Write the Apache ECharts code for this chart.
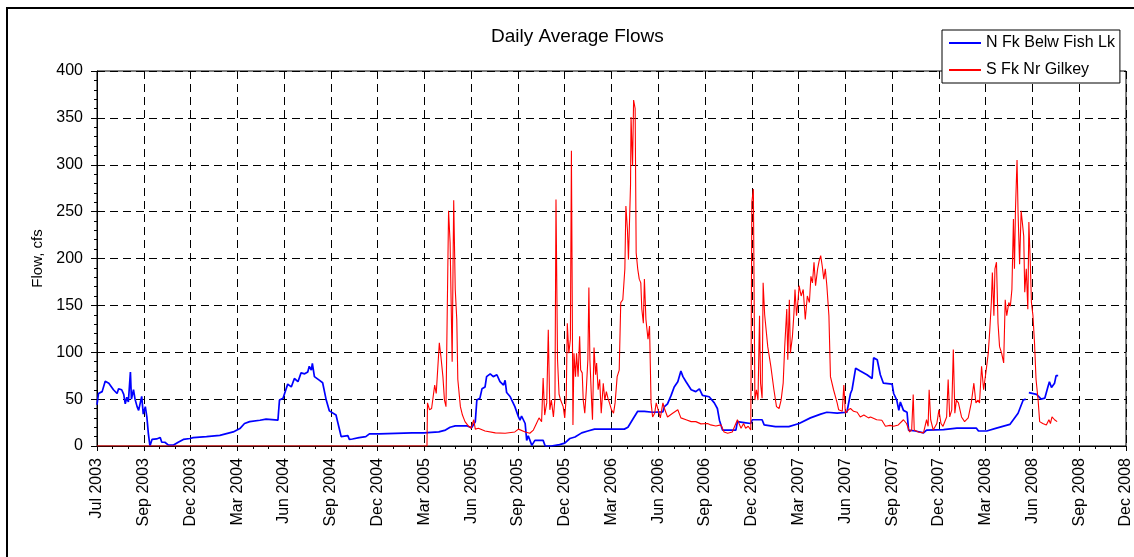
<!DOCTYPE html>
<html>
<head>
<meta charset="utf-8">
<title>Daily Average Flows</title>
<script src="https://cdn.jsdelivr.net/npm/echarts@6/dist/echarts.min.js"></script>
<style>
  html, body { margin: 0; padding: 0; background: #fff; }
  #chart { width: 1134px; height: 557px; }
</style>
</head>
<body>
<div id="chart"></div>
<script>
// axis runs from 1 Jul 2003, one label every 91 days
const startDate = '2003-07-01'
const monthNames = ['Jan', 'Feb', 'Mar', 'Apr', 'May', 'Jun', 'Jul', 'Aug', 'Sep', 'Oct', 'Nov', 'Dec']

// N Fk Belw Fish Lk (cfs)
const northDates = [
  '2003-07-01', '2003-07-04', '2003-07-11', '2003-07-14', '2003-07-17', '2003-07-24', '2003-08-02', '2003-08-09', '2003-08-12', '2003-08-18',
  '2003-08-22', '2003-08-25', '2003-08-28', '2003-08-31', '2003-09-04', '2003-09-06', '2003-09-10', '2003-09-13', '2003-09-17', '2003-09-20',
  '2003-09-23', '2003-09-26', '2003-09-29', '2003-10-03', '2003-10-06', '2003-10-09', '2003-10-12', '2003-10-16', '2003-10-25', '2003-11-01',
  '2003-11-04', '2003-11-10', '2003-11-17', '2003-11-20', '2003-11-27', '2003-12-06', '2003-12-16', '2003-12-29', '2004-01-04', '2004-01-30',
  '2004-02-25', '2004-03-22', '2004-04-04', '2004-04-13', '2004-04-23', '2004-05-13', '2004-05-25', '2004-06-17', '2004-06-20', '2004-06-27',
  '2004-06-30', '2004-07-06', '2004-07-13', '2004-07-19', '2004-07-26', '2004-08-01', '2004-08-08', '2004-08-14', '2004-08-17', '2004-08-21',
  '2004-08-23', '2004-08-27', '2004-08-30', '2004-09-06', '2004-09-12', '2004-09-19', '2004-09-25', '2004-10-08', '2004-10-15', '2004-10-18',
  '2004-10-31', '2004-11-03', '2004-11-09', '2004-11-22', '2004-12-05', '2004-12-12', '2004-12-31', '2005-03-05', '2005-03-28', '2005-04-26',
  '2005-05-09', '2005-05-18', '2005-05-28', '2005-06-20', '2005-06-29', '2005-07-06', '2005-07-09', '2005-07-15', '2005-07-19', '2005-07-25',
  '2005-07-28', '2005-08-04', '2005-08-10', '2005-08-17', '2005-08-23', '2005-08-30', '2005-09-02', '2005-09-05', '2005-09-12', '2005-09-21',
  '2005-09-28', '2005-10-01', '2005-10-04', '2005-10-11', '2005-10-14', '2005-10-17', '2005-10-20', '2005-10-24', '2005-10-27', '2005-10-30',
  '2005-11-15', '2005-11-19', '2005-12-01', '2005-12-17', '2005-12-27', '2006-01-06', '2006-01-16', '2006-01-29', '2006-02-10', '2006-02-23',
  '2006-03-08', '2006-04-22', '2006-04-29', '2006-05-09', '2006-05-18', '2006-05-31', '2006-06-16', '2006-07-06', '2006-07-09', '2006-07-15',
  '2006-07-22', '2006-07-28', '2006-08-04', '2006-08-10', '2006-08-14', '2006-08-20', '2006-08-30', '2006-09-08', '2006-09-15', '2006-09-21',
  '2006-10-04', '2006-10-14', '2006-10-20', '2006-10-24', '2006-10-30', '2006-11-25', '2006-11-28', '2006-12-11', '2006-12-24', '2006-12-27',
  '2007-01-15', '2007-01-19', '2007-02-10', '2007-03-08', '2007-03-28', '2007-04-19', '2007-05-09', '2007-05-21', '2007-06-10', '2007-06-29',
  '2007-07-06', '2007-07-09', '2007-07-16', '2007-07-19', '2007-07-25', '2007-08-07', '2007-08-17', '2007-08-20', '2007-08-27', '2007-08-30',
  '2007-09-02', '2007-09-08', '2007-09-25', '2007-09-28', '2007-10-04', '2007-10-08', '2007-10-11', '2007-10-17', '2007-10-24', '2007-10-27',
  '2007-11-09', '2007-11-25', '2007-12-01', '2008-01-03', '2008-01-29', '2008-03-07', '2008-03-11', '2008-03-27', '2008-04-15', '2008-05-11',
  '2008-05-27', '2008-06-06', '2008-06-11', '2008-06-14', '2008-06-17', '2008-07-02', '2008-07-11', '2008-07-18', '2008-07-24', '2008-07-27',
  '2008-07-31', '2008-08-06', '2008-08-09', '2008-08-13'
]
const northFlow = [
  44, 56, 58, 56, 69, 67, 60, 56, 61, 60,
  55, 45, 52, 47, 79, 50, 60, 50, 42, 38,
  36, 53, 34, 42, 31, 13, 0, 7, 7.5, 9,
  4, 4, 1, 0, 1, 4, 7, 8, 9, 10,
  11.4, 15, 18.6, 24, 26, 27.5, 28.6, 27.5, 49, 51,
  56, 66, 63, 72, 68.6, 78, 77, 79, 85, 81,
  88, 74, 76, 70, 67.5, 49, 37.5, 33, 17, 10,
  11, 7, 7.5, 9, 10, 13, 13, 14, 14, 15,
  17, 20, 21.4, 21.4, 19.6, 25.7, 49, 51, 61, 63,
  74, 77, 74, 76, 68.6, 65, 70, 57, 52.5, 42,
  31, 27.5, 32, 24, 6, 11, 11, 0.7, 0, 6,
  6, 0, 0, 1.4, 3, 8, 9.6, 14, 16, 18,
  18, 18, 20, 29, 37, 37, 36, 36.4, 42, 45,
  54, 63, 68.6, 80, 74, 68.6, 60, 58, 61, 54,
  52.5, 46, 40, 27.5, 17, 17, 26, 25, 24, 28,
  28, 22.5, 20.7, 20.7, 24, 30, 34, 36, 35, 36,
  56, 60, 83, 85, 80, 76, 72, 94, 92, 94,
  76, 67, 66, 56, 49, 38, 47, 38, 36, 17,
  16, 14, 17, 17.5, 19, 19, 16, 16, 19, 23,
  35, 49, 50, null, 57, 55, 50, 51, 63, 68.6,
  62.5, 67, 75, 75
]

// S Fk Nr Gilkey (cfs)
const southDates = [
  '2003-07-01', '2005-04-03', '2005-04-04', '2005-04-08', '2005-04-12', '2005-04-14', '2005-04-18', '2005-04-21', '2005-04-24', '2005-04-27',
  '2005-04-30', '2005-05-04', '2005-05-07', '2005-05-10', '2005-05-15', '2005-05-18', '2005-05-22', '2005-05-24', '2005-05-25', '2005-05-28',
  '2005-05-31', '2005-06-02', '2005-06-07', '2005-06-11', '2005-06-16', '2005-06-23', '2005-06-28', '2005-07-03', '2005-07-06', '2005-07-12',
  '2005-07-25', '2005-08-14', '2005-09-02', '2005-09-21', '2005-09-28', '2005-10-11', '2005-10-20', '2005-10-27', '2005-11-02', '2005-11-07',
  '2005-11-12', '2005-11-15', '2005-11-18', '2005-11-22', '2005-11-25', '2005-11-28', '2005-12-01', '2005-12-05', '2005-12-08', '2005-12-10',
  '2005-12-13', '2005-12-16', '2005-12-19', '2005-12-24', '2005-12-27', '2005-12-30', '2006-01-01', '2006-01-04', '2006-01-07', '2006-01-09',
  '2006-01-10', '2006-01-12', '2006-01-14', '2006-01-17', '2006-01-19', '2006-01-22', '2006-01-25', '2006-01-27', '2006-01-30', '2006-02-01',
  '2006-02-04', '2006-02-07', '2006-02-10', '2006-02-12', '2006-02-14', '2006-02-17', '2006-02-19', '2006-02-22', '2006-02-25', '2006-02-27',
  '2006-03-02', '2006-03-05', '2006-03-08', '2006-03-12', '2006-03-15', '2006-03-18', '2006-03-21', '2006-03-24', '2006-03-28', '2006-04-01',
  '2006-04-04', '2006-04-08', '2006-04-12', '2006-04-15', '2006-04-19', '2006-04-23', '2006-04-25', '2006-04-28', '2006-04-30', '2006-05-04',
  '2006-05-05', '2006-05-08', '2006-05-10', '2006-05-13', '2006-05-15', '2006-05-18', '2006-05-21', '2006-05-24', '2006-05-26', '2006-05-29',
  '2006-05-31', '2006-06-03', '2006-06-07', '2006-06-10', '2006-06-13', '2006-06-16', '2006-06-20', '2006-06-23', '2006-06-26', '2006-07-01',
  '2006-07-06', '2006-07-09', '2006-07-15', '2006-07-25', '2006-08-04', '2006-08-10', '2006-08-20', '2006-08-30', '2006-09-08', '2006-09-18',
  '2006-10-01', '2006-10-07', '2006-10-17', '2006-10-27', '2006-11-02', '2006-11-09', '2006-11-18', '2006-11-28', '2006-12-05', '2006-12-10',
  '2006-12-14', '2006-12-19', '2006-12-24', '2006-12-26', '2006-12-29', '2007-01-01', '2007-01-04', '2007-01-07', '2007-01-10', '2007-01-12',
  '2007-01-15', '2007-01-17', '2007-01-20', '2007-01-23', '2007-01-26', '2007-02-01', '2007-02-07', '2007-02-12', '2007-02-17', '2007-02-21',
  '2007-02-25', '2007-02-28', '2007-03-04', '2007-03-06', '2007-03-09', '2007-03-11', '2007-03-15', '2007-03-18', '2007-03-20', '2007-03-23',
  '2007-03-26', '2007-03-28', '2007-04-01', '2007-04-05', '2007-04-09', '2007-04-13', '2007-04-17', '2007-04-20', '2007-04-23', '2007-04-26',
  '2007-04-29', '2007-05-03', '2007-05-06', '2007-05-09', '2007-05-12', '2007-05-15', '2007-05-18', '2007-05-21', '2007-05-25', '2007-05-28',
  '2007-06-03', '2007-06-10', '2007-06-13', '2007-06-20', '2007-06-23', '2007-06-26', '2007-07-02', '2007-07-06', '2007-07-12', '2007-07-19',
  '2007-07-25', '2007-08-01', '2007-08-04', '2007-08-10', '2007-08-14', '2007-08-26', '2007-09-05', '2007-09-12', '2007-09-21', '2007-09-28',
  '2007-10-07', '2007-10-10', '2007-10-17', '2007-10-23', '2007-10-29', '2007-11-02', '2007-11-05', '2007-11-07', '2007-11-15', '2007-11-25',
  '2007-12-01', '2007-12-04', '2007-12-06', '2007-12-09', '2007-12-14', '2007-12-21', '2007-12-25', '2007-12-29', '2008-01-02', '2008-01-09',
  '2008-01-12', '2008-01-15', '2008-01-19', '2008-01-22', '2008-01-25', '2008-01-28', '2008-02-01', '2008-02-07', '2008-02-13', '2008-02-20',
  '2008-02-26', '2008-03-02', '2008-03-06', '2008-03-10', '2008-03-13', '2008-03-17', '2008-03-21', '2008-03-23', '2008-03-26', '2008-03-30',
  '2008-04-02', '2008-04-05', '2008-04-07', '2008-04-10', '2008-04-12', '2008-04-15', '2008-04-18', '2008-04-21', '2008-04-25', '2008-04-29',
  '2008-05-02', '2008-05-05', '2008-05-09', '2008-05-12', '2008-05-15', '2008-05-18', '2008-05-20', '2008-05-22', '2008-05-25', '2008-05-27',
  '2008-05-30', '2008-06-02', '2008-06-04', '2008-06-07', '2008-06-09', '2008-06-12', '2008-06-15', '2008-06-17', '2008-06-20', '2008-06-22',
  '2008-06-25', '2008-06-28', '2008-07-01', '2008-07-05', '2008-07-08', '2008-07-14', '2008-07-21', '2008-07-26', '2008-07-29', '2008-08-01',
  '2008-08-06', '2008-08-11'
]
const southFlow = [
  0, 0, 46, 38.6, 40, 38.6, 65, 56, 58, 110,
  96, 74, 49, 42, 251, 217, 90, 210, 262, 167,
  135, 71, 42, 33, 26, 21, 19, 28, 18, 19,
  16, 14, 13.6, 15, 18, 15, 13.6, 17, 24, 30,
  26, 72.5, 33, 46, 124, 38.6, 49, 31, 51, 263,
  92, 55, 49, 42, 30, 53, 131, 99, 114, 315,
  217, 22.5, 99, 74, 99, 74, 117, 81, 78, 49,
  35, 60, 92, 169, 92, 51, 28, 105, 76, 88.6,
  60, 71, 35, 67, 49, 58, 51, 46, 38.6, 35,
  46, 74, 81, 153, 156, 189, 256, 231, 199, 278,
  351, 299, 369, 360, 206, 189, 178, 174, 146, 131,
  178, 135, 114, 128, 46, 31, 35, 46, 44, 30,
  46, 40, 31, 35, 38.6, 30, 28, 26, 26, 23.6,
  24, 22.5, 21.4, 22.5, 15, 13.6, 15, 28, 19, 24,
  19, 21, 17, 260, 274, 49, 60, 49, 139, 67,
  51, 174, 140, 139, 106, 85, 60, 42, 40, 49,
  67, 106, 146, 92, 156, 99, 117, 142, 167, 139,
  156, 171, 160, 167, 135, 160, 153, 181, 174, 196,
  171, 189, 197.5, 203, 192, 178, 189, 171, 139, 74,
  60, 46, 38.6, 37, 65, 35, 38.6, 40, 37, 36,
  31, 33, 35, 30, 31, 28, 27.5, 21, 22, 21,
  22.5, 24, 28, 24, 15, 17, 55, 17, 15, 14,
  28, 21, 60, 28, 17, 24, 38.6, 24, 21, 31,
  71, 31, 38.6, 103, 35, 49, 46, 31, 26, 30,
  46, 67, 46, 49, 46, 85, 60, 60, 81, 99,
  124, 153, 185, 139, 189, 196, 131, 106, 99, 88.6,
  156, 139, 153, 149, 167, 242, 189, 253, 305, 249,
  194, 251, 251, 224, 164, 189, 146, 239, 192, 153,
  139, 110, 71, 49, 26, 24, 22.5, 28, 24, 31,
  28, 26
]

const yTicks = [0, 50, 100, 150, 200, 250, 300, 350, 400]

const DAY = 86400000
const start = Date.parse(startDate)
const dayOf = (d) => (Date.parse(d) - start) / DAY
const toPoints = (dates, values) =>
  dates.map((d, i) => [dayOf(d), values[i] === null ? '-' : values[i]])

const labelFor = (v) => {
  const d = new Date(start + v * DAY)
  return monthNames[d.getUTCMonth()] + ' ' + d.getUTCFullYear()
}

const font = "'Liberation Sans', Arial, sans-serif"
const gridLine = { show: true, lineStyle: { color: '#000', width: 1, type: [8, 5] } }

const chart = echarts.init(document.getElementById('chart'))
chart.setOption({
  animation: false,
  backgroundColor: '#fff',
  textStyle: { fontFamily: font },
  title: {
    text: 'Daily Average Flows',
    left: 491,
    top: 27,
    padding: 0,
    textStyle: { fontFamily: font, fontSize: 19, fontWeight: 'normal', color: '#000' },
  },
  legend: {
    orient: 'vertical',
    left: 942,
    top: 30,
    padding: [4, 5, 4, 7],
    itemGap: 9,
    itemWidth: 32,
    itemHeight: 2,
    icon: 'rect',
    backgroundColor: '#fff',
    borderColor: '#000',
    borderWidth: 1,
    borderRadius: 0,
    textStyle: { fontFamily: font, fontSize: 16, color: '#000', lineHeight: 18 },
  },
  graphic: [
    {
      type: 'rect',
      silent: true,
      z: -10,
      shape: { x: 7, y: 8, width: 1200, height: 620 },
      style: { fill: null, stroke: '#000', lineWidth: 2 },
    },
  ],
  grid: {
    left: 97,
    right: 4,
    top: 71,
    bottom: 111,
    show: true,
    borderColor: '#000',
    borderWidth: 1,
    backgroundColor: '#fff',
  },
  xAxis: {
    type: 'value',
    min: 0,
    max: 2002,
    interval: 91,
    axisLine: { show: true, lineStyle: { color: '#000', width: 1 } },
    axisTick: { show: true, length: 5, lineStyle: { color: '#000' } },
    minorTick: { show: true, splitNumber: 3, length: 3, lineStyle: { color: '#000' } },
    axisLabel: {
      rotate: 90,
      margin: 12,
      fontSize: 16,
      fontFamily: font,
      color: '#000',
      formatter: labelFor,
    },
    splitLine: gridLine,
  },
  yAxis: {
    type: 'value',
    min: yTicks[0],
    max: yTicks[yTicks.length - 1],
    interval: yTicks[1] - yTicks[0],
    name: 'Flow, cfs',
    nameLocation: 'middle',
    nameGap: 52,
    nameTextStyle: { fontFamily: font, fontSize: 15, color: '#000' },
    axisLine: { show: true, lineStyle: { color: '#000', width: 1 } },
    axisTick: { show: true, length: 6, lineStyle: { color: '#000' } },
    minorTick: { show: true, splitNumber: 5, length: 3, lineStyle: { color: '#000' } },
    axisLabel: { margin: 14, fontSize: 16, fontFamily: font, color: '#000' },
    splitLine: gridLine,
  },
  series: [
    {
      name: 'N Fk Belw Fish Lk',
      type: 'line',
      symbol: 'none',
      connectNulls: false,
      color: '#0000ff',
      lineStyle: { color: '#0000ff', width: 1.7 },
      data: toPoints(northDates, northFlow),
    },
    {
      name: 'S Fk Nr Gilkey',
      type: 'line',
      symbol: 'none',
      color: '#ff0000',
      lineStyle: { color: '#ff0000', width: 1.1 },
      data: toPoints(southDates, southFlow),
    },
  ],
})
</script>
</body>
</html>
